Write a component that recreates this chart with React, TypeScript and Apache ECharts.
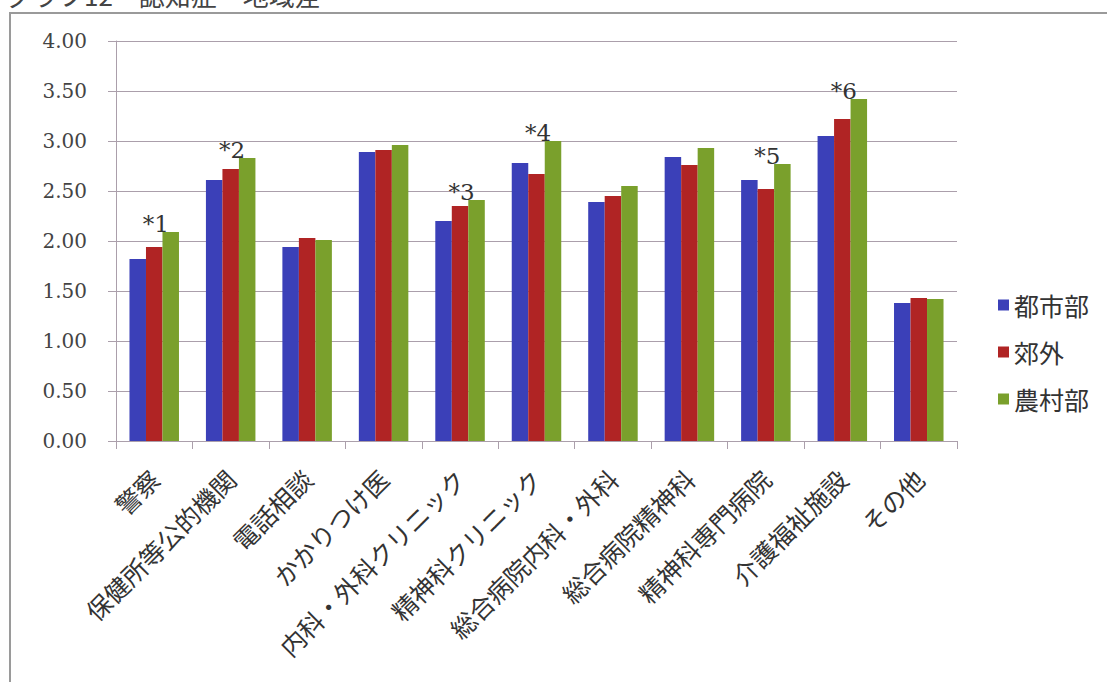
import React, { useEffect, useRef } from "react";
import * as echarts from "echarts";

const categories = [
  "警察",
  "保健所等公的機関",
  "電話相談",
  "かかりつけ医",
  "内科・外科クリニック",
  "精神科クリニック",
  "総合病院内科・外科",
  "総合病院精神科",
  "精神科専門病院",
  "介護福祉施設",
  "その他",
];

const seriesNames = ["都市部", "郊外", "農村部"];

const urban = [1.82, 2.61, 1.94, 2.89, 2.2, 2.78, 2.39, 2.84, 2.61, 3.05, 1.38];
const suburban = [1.94, 2.72, 2.03, 2.91, 2.35, 2.67, 2.45, 2.76, 2.52, 3.22, 1.43];
const rural = [2.09, 2.83, 2.01, 2.96, 2.41, 3.0, 2.55, 2.93, 2.77, 3.42, 1.42];

const notes = ["*1", "*2", "", "", "*3", "*4", "", "", "*5", "*6", ""];

const yTicks = { min: 0, max: 4, interval: 0.5 };

const title = "グラフ12　認知症　地域差";

const colors = ["#3b40b8", "#b02424", "#7aa02c"];

export default function App() {
  const ref = useRef<HTMLDivElement>(null);

  useEffect(() => {
    if (!ref.current) return;
    const chart = echarts.init(ref.current, undefined, { renderer: "svg" });
    const gridColor = "#ab9fab";
    const cjk = '"Noto Sans CJK JP", "Noto Sans", sans-serif';
    const serif = '"DejaVu Serif", "Liberation Serif", serif';
    const values = [urban, suburban, rural];

    chart.setOption({
      animation: false,
      backgroundColor: "#ffffff",
      title: {
        text: title,
        left: 6,
        top: -19,
        padding: 0,
        textStyle: {
          fontFamily: cjk,
          fontSize: 26,
          fontWeight: "normal",
          color: "#444",
        },
      },
      graphic: [
        {
          type: "rect",
          shape: { x: 10, y: 13, width: 1120, height: 700 },
          style: { fill: "none", stroke: "#9a9a9a", lineWidth: 2 },
          silent: true,
        },
      ],
      legend: {
        orient: "vertical",
        left: 993,
        top: 287,
        itemWidth: 11,
        itemHeight: 11,
        itemGap: 21,
        itemTextGap: 6,
        icon: "rect",
        data: seriesNames,
        textStyle: {
          fontFamily: cjk,
          fontSize: 25,
          color: "#333",
          lineHeight: 26,
        },
      },
      grid: { left: 116, right: 150, top: 41, bottom: 241, containLabel: false },
      xAxis: {
        type: "category",
        data: categories,
        axisLine: { lineStyle: { color: gridColor, width: 1 } },
        axisTick: { show: true, length: 8, lineStyle: { color: gridColor } },
        axisLabel: {
          rotate: 45,
          interval: 0,
          margin: 33,
          fontFamily: cjk,
          fontSize: 25,
          color: "#333",
        },
      },
      yAxis: {
        type: "value",
        min: yTicks.min,
        max: yTicks.max,
        interval: yTicks.interval,
        axisLine: { show: true, lineStyle: { color: gridColor, width: 1 } },
        axisTick: { show: true, length: 8, inside: false, lineStyle: { color: gridColor } },
        splitLine: { show: true, lineStyle: { color: gridColor, width: 1 } },
        axisLabel: {
          margin: 29,
          fontFamily: serif,
          fontSize: 20,
          color: "#444",
          formatter: (v: number) => v.toFixed(2),
        },
      },
      series: seriesNames.map((name, i) => ({
        name,
        type: "bar",
        data: values[i],
        barWidth: 16.5,
        barGap: "0%",
        itemStyle: { color: colors[i] },
        label:
          i === 2
            ? {
                show: true,
                position: "top",
                distance: 0,
                offset: [-15, 3],
                fontFamily: serif,
                fontSize: 23,
                color: "#333",
                formatter: (p: any) => notes[p.dataIndex] || "",
              }
            : { show: false },
      })),
    });

    return () => chart.dispose();
  }, []);

  return (
    <div
      ref={ref}
      style={{ position: "absolute", left: 0, top: 0, width: 1107, height: 682 }}
    />
  );
}
